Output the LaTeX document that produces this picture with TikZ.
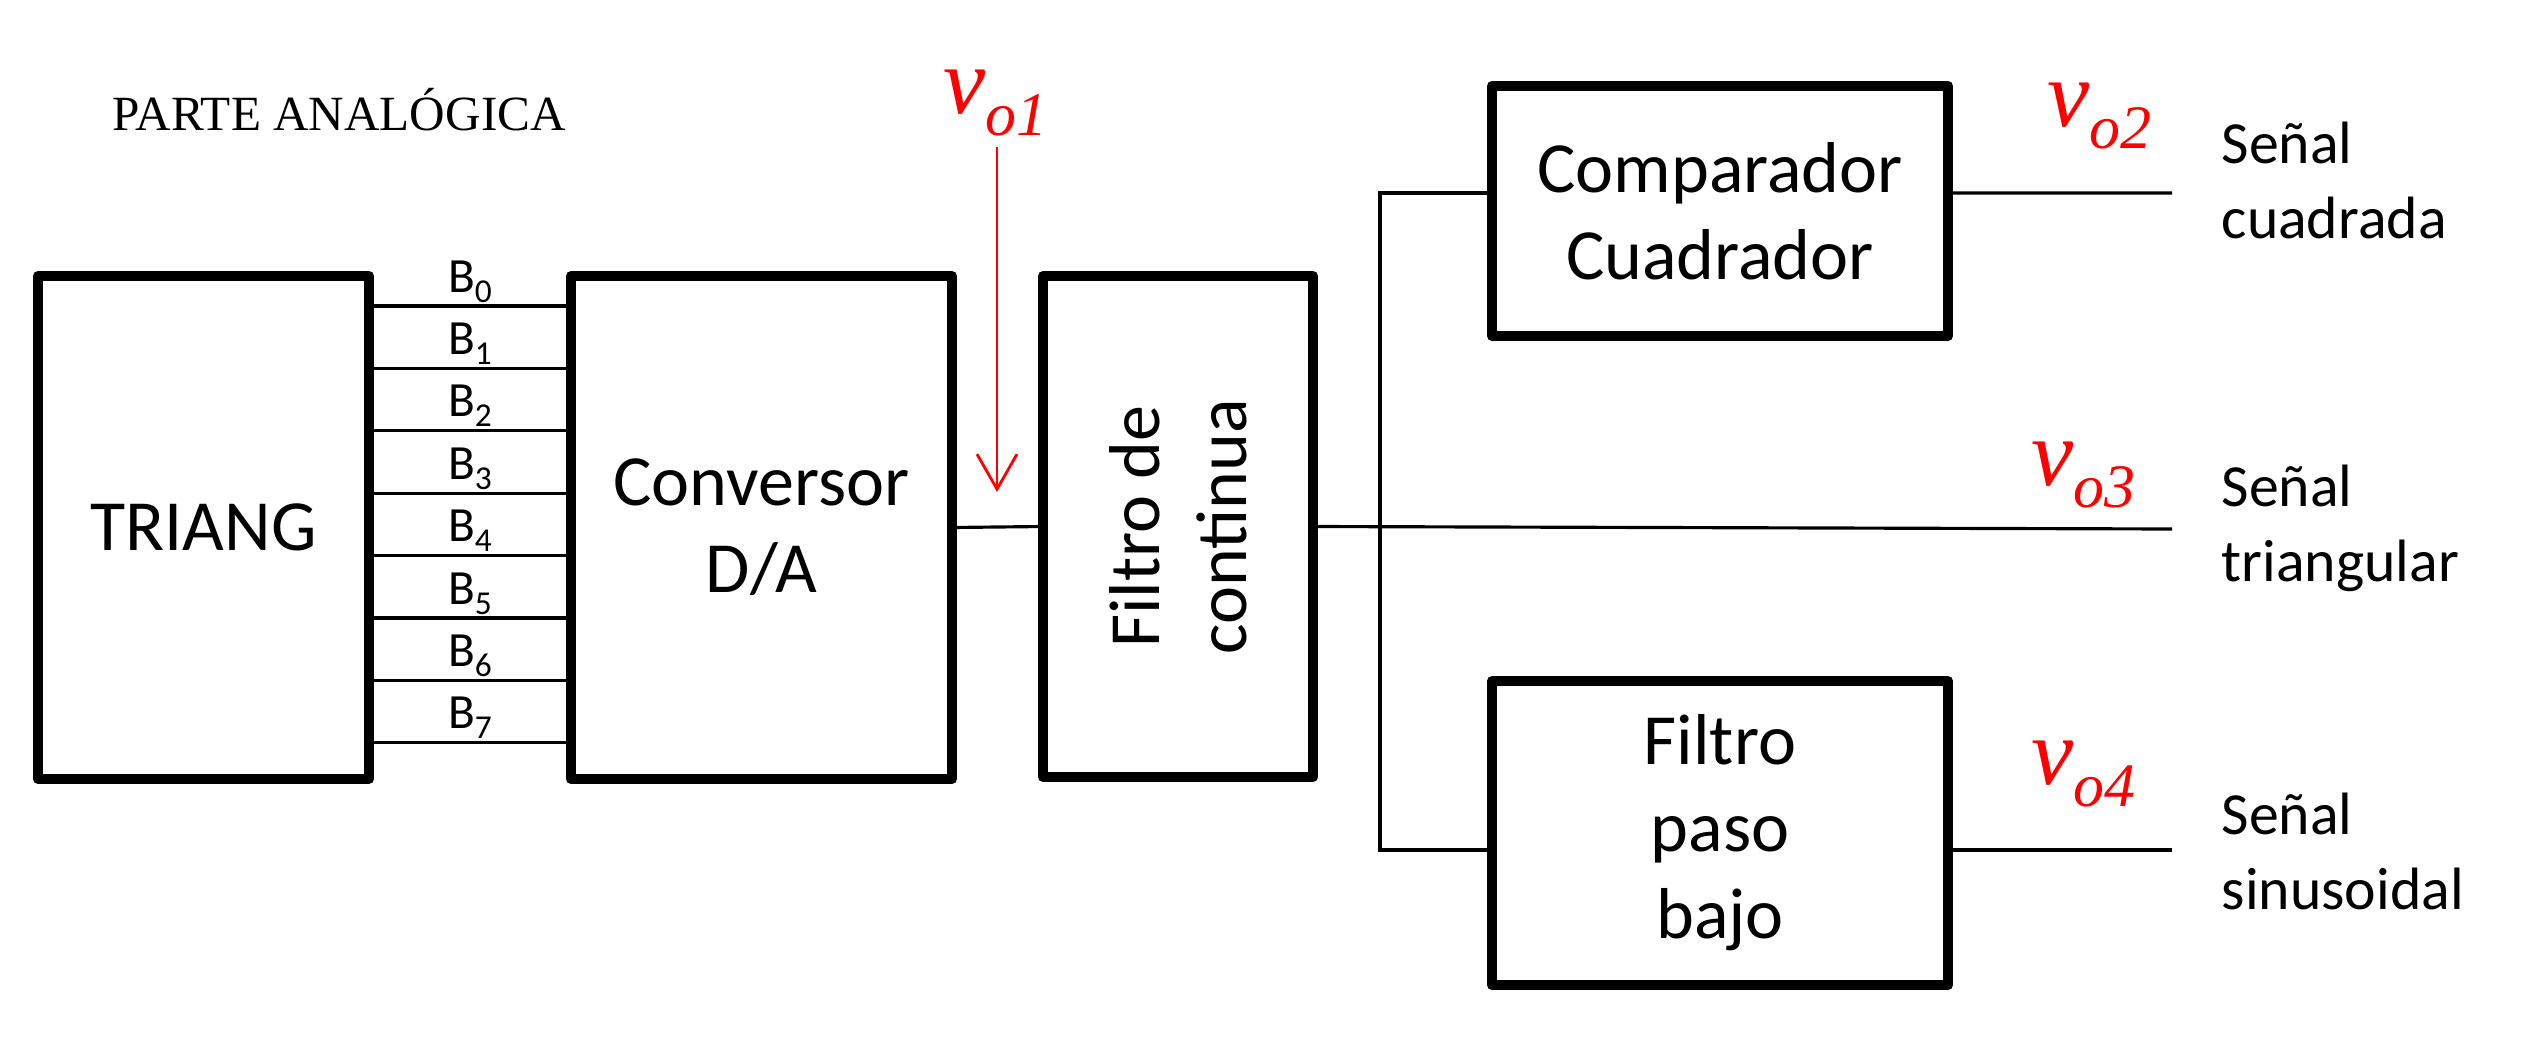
\documentclass[tikz,border=0pt]{standalone}
\usepackage{fontspec}
\setmainfont{Carlito}
\newfontfamily\timesfont{Liberation Serif}
\usetikzlibrary{arrows.meta}

\newcommand{\bitlbl}[1]{B\raisebox{-2.85pt}{\fontsize{9.5}{9.5}\selectfont #1}}
\newcommand{\vout}[1]{{\timesfont\itshape\fontsize{27}{27}\selectfont v\raisebox{-6.3pt}{\fontsize{17.6}{17.6}\selectfont o#1}}}

\begin{document}
\begin{tikzpicture}[
  boxtext/.style={align=center,font=\fontsize{20.5}{24.75}\selectfont},
  blk/.style={boxtext,draw,line width=0.1cm,line join=round,inner sep=0pt,outer sep=0pt},
  wire/.style={line width=0.9pt},
  probe/.style={red,line width=0.8pt,-{Straight Barb[length=0.35cm,width=0.40cm]}},
  bitlabel/.style={anchor=base,yshift=0.14cm,inner sep=0pt,font=\fontsize{14}{14}\selectfont},
  vlabel/.style={anchor=base west,inner sep=0pt,text=red},
  outlabel/.style={anchor=base west,inner sep=0pt,align=left,font=\fontsize{17}{21.3}\selectfont}
]
\useasboundingbox (0,0) rectangle (25.40,-10.42);

\node[anchor=base west,inner sep=0pt,font=\timesfont\fontsize{14}{14}\selectfont] (parte) at (1.12,-1.30) {PARTE ANALÓGICA};

% bloques
\node[blk,minimum width=3.31cm,minimum height=5.03cm] (triang) at (2.035,-5.275) {TRIANG};
\node[blk,minimum width=3.81cm,minimum height=5.03cm] (dac) at (7.615,-5.275) {Conversor\\D/A};
\node[blk,minimum width=2.70cm,minimum height=5.01cm] (fdc) at (11.78,-5.265) {};
\node[boxtext,rotate=90] (fdctxt) at (fdc) {Filtro de\\continua};
\node[blk,minimum width=4.56cm,minimum height=2.50cm] (comp) at (17.20,-2.11) {Comparador\\Cuadrador};
\node[blk,minimum width=4.56cm,minimum height=3.04cm] (fpb) at (17.20,-8.33) {Filtro\\paso\\bajo};

% bus de 8 bits
\draw[wire] ([yshift=-0.300cm]triang.north east) -- node[bitlabel] {\bitlbl{0}} ([yshift=-0.300cm]dac.north west);
\draw[wire] ([yshift=-0.924cm]triang.north east) -- node[bitlabel] {\bitlbl{1}} ([yshift=-0.924cm]dac.north west);
\draw[wire] ([yshift=-1.548cm]triang.north east) -- node[bitlabel] {\bitlbl{2}} ([yshift=-1.548cm]dac.north west);
\draw[wire] ([yshift=-2.172cm]triang.north east) -- node[bitlabel] {\bitlbl{3}} ([yshift=-2.172cm]dac.north west);
\draw[wire] ([yshift=-2.796cm]triang.north east) -- node[bitlabel] {\bitlbl{4}} ([yshift=-2.796cm]dac.north west);
\draw[wire] ([yshift=-3.420cm]triang.north east) -- node[bitlabel] {\bitlbl{5}} ([yshift=-3.420cm]dac.north west);
\draw[wire] ([yshift=-4.044cm]triang.north east) -- node[bitlabel] {\bitlbl{6}} ([yshift=-4.044cm]dac.north west);
\draw[wire] ([yshift=-4.668cm]triang.north east) -- node[bitlabel] {\bitlbl{7}} ([yshift=-4.668cm]dac.north west);

% conexiones
\coordinate (split) at (13.80,-5.28);
\coordinate (out2) at (21.72,-1.93);
\coordinate (out3) at (21.72,-5.29);
\coordinate (out4) at (21.72,-8.50);
\draw[wire] (dac.east) -- (fdc.west);
\draw[wire] (fdc.east) -- (out3);
\draw[wire] ([yshift=0.18cm]comp.west) -| (split) |- ([yshift=-0.17cm]fpb.west);
\draw[wire] ([yshift=0.18cm]comp.east) -- (out2);
\draw[wire] ([yshift=-0.17cm]fpb.east) -- (out4);

% tensiones
\coordinate (vo1top) at (9.97,-1.47);
\coordinate (vo1tip) at (9.97,-4.92);
\draw[probe] (vo1top) -- (vo1tip);
\node[vlabel] (vo1) at (9.43,-1.13) {\vout{1}};
\node[vlabel] (vo2) at (20.47,-1.26) {\vout{2}};
\node[vlabel] (vo3) at (20.31,-4.85) {\vout{3}};
\node[vlabel] (vo4) at (20.31,-7.84) {\vout{4}};

% salidas
\node[outlabel] (sq) at (22.21,-2.38) {Señal\\cuadrada};
\node[outlabel] (tri) at (22.21,-5.81) {Señal\\triangular};
\node[outlabel] (sin) at (22.21,-9.09) {Señal\\sinusoidal};
\end{tikzpicture}
\end{document}
